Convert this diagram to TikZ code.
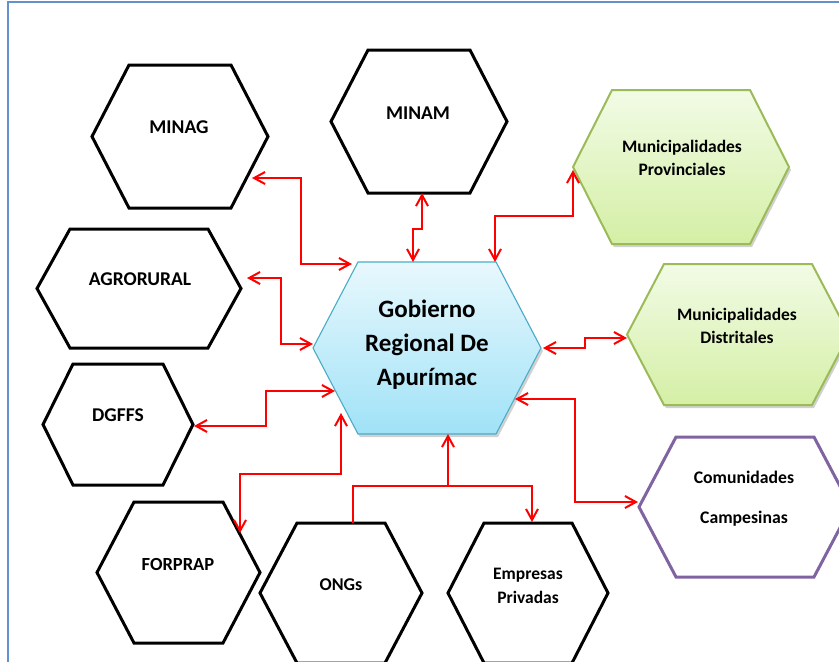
\documentclass[tikz,border=0pt]{standalone}
\usepackage{fontspec}
\setmainfont{Carlito}
\usetikzlibrary{arrows.meta}
\definecolor{framec}{HTML}{6391D0}
\definecolor{cenborder}{HTML}{4BACC6}
\definecolor{centop}{HTML}{E8F8FD}
\definecolor{cenbot}{HTML}{A0E2F7}
\definecolor{grnborder}{HTML}{9BBB59}
\definecolor{grntop}{HTML}{F2FBE6}
\definecolor{grnbot}{HTML}{D4EFA5}
\definecolor{purp}{HTML}{8064A2}
\definecolor{linkred}{HTML}{FF0000}
% hexagon: options, left x, top y, right x, bottom y, inset
\newcommand\hexa[6]{%
  \path[#1] (#2,{(#3+#5)/2}) -- ({#2+#6},#3) -- ({#4-#6},#3) -- (#4,{(#3+#5)/2})
    -- ({#4-#6},#5) -- ({#2+#6},#5) -- cycle;}
\tikzset{
  hexblack/.style={draw=black, line width=3pt, fill=white, line join=miter},
  hexcen/.style={draw=cenborder, line width=1.1pt, top color=centop, bottom color=cenbot},
  hexgrn/.style={draw=grnborder, line width=2pt, top color=grntop, bottom color=grnbot},
  hexpur/.style={draw=purp, line width=3pt, fill=white},
  hexshadow/.style={fill=black, opacity=0.18, xshift=2pt, yshift=-3pt},
  barb/.tip={Straight Barb[length=11pt,width=12pt,line width=2pt]},
  link/.style={draw=linkred, line width=2pt, line join=miter},
  both/.style={link, barb-barb},
  single/.style={link, -barb},
  lbl/.style={font=\bfseries\fontsize{17.5}{23}\selectfont, align=center, inner sep=0pt, text=black},
  caplbl/.style={font=\bfseries\fontsize{19.5}{23}\selectfont, align=center, inner sep=0pt, text=black},
  biglbl/.style={font=\bfseries\fontsize{25}{34}\selectfont, align=center, inner sep=0pt, text=black}
}
\begin{document}
\begin{tikzpicture}[x=1pt,y=-1pt]
\useasboundingbox (0,0) rectangle (839,662);
\clip (0,0) rectangle (839,662);
\fill[white] (0,0) rectangle (839,662);
\draw[framec, line width=2pt] (8,2) rectangle (860,690);

% hexagons
\hexa{hexblack}{92}{65}{268}{208}{37}
\hexa{hexblack}{331}{50}{507}{193}{37}
\hexa{hexblack}{37}{229}{241}{348}{33}
\hexa{hexblack}{43}{364}{193}{485}{30}
\hexa{hexblack}{97}{502}{260}{643}{37}
\hexa{hexblack}{260}{523}{422}{663}{37}
\hexa{hexblack}{448}{523}{608}{663}{36}
\hexa{hexshadow}{313}{262}{541}{434}{45}
\hexa{hexcen}{313}{262}{541}{434}{45}
\hexa{hexshadow}{573}{90}{789}{244}{39}
\hexa{hexgrn}{573}{90}{789}{244}{39}
\hexa{hexshadow}{627}{264}{849}{405}{37}
\hexa{hexgrn}{627}{264}{849}{405}{37}
\hexa{hexpur}{639}{437}{851}{577}{37}

% labels
\node[caplbl] (minag) at (179,127) {MINAG};
\node[caplbl] (minam) at (418,113) {MINAM};
\node[caplbl] (agro) at (140,279) {AGRORURAL};
\node[caplbl] (dgffs) at (118,415) {DGFFS};
\node[lbl, font=\bfseries\fontsize{18.5}{23}\selectfont] (forprap) at (178,564) {FORPRAP};
\node[lbl, font=\bfseries\fontsize{18}{23}\selectfont] (ongs) at (341,585) {ONGs};
\node[lbl, font=\bfseries\fontsize{17.5}{24}\selectfont] (emp) at (528,586) {Empresas\\Privadas};
\node[biglbl] (gob) at (427,345) {Gobierno\\Regional De\\Apurímac};
\node[lbl] (prov) at (682,158) {Municipalidades\\Provinciales};
\node[lbl] (dist) at (737,326) {Municipalidades\\Distritales};
\node[lbl, font=\bfseries\fontsize{17.7}{40}\selectfont] (com) at (744,499) {Comunidades\\Campesinas};

% connector end points
\coordinate (a1) at (252,178); \coordinate (b1) at (352,264);
\coordinate (a2) at (422,193); \coordinate (b2) at (413,262);
\coordinate (a3) at (573,170); \coordinate (b3) at (495,262);
\coordinate (a4) at (627,338); \coordinate (b4) at (543,348);
\coordinate (a5) at (638,502); \coordinate (b5) at (515,399);
\coordinate (o6) at (353,523); \coordinate (e6) at (532,522); \coordinate (c6) at (448,434);
\coordinate (a7) at (240,533); \coordinate (b7) at (341,413);
\coordinate (a8) at (194,426); \coordinate (b8) at (335,391);
\coordinate (a9) at (247,278); \coordinate (b9) at (313,344);

% connectors
\draw[both] (a1) -- ++(49,0) |- (b1);
\draw[both] (a2) -- ++(0,36) -| (b2);
\draw[both] (a3) -- ++(0,46) -| (b3);
\draw[both] (a4) -- ++(-42,0) |- (b4);
\draw[both] (a5) -- ++(-63,0) |- (b5);
\draw[single] (o6) -- ++(0,-37) coordinate (j6) -| (e6);
\draw[single] (c6 |- j6) -- (c6);
\draw[both] (a7) -- ++(0,-59) -| (b7);
\draw[both] (a8) -- ++(72,0) |- (b8);
\draw[both] (a9) -- ++(34,0) |- (b9);
\end{tikzpicture}
\end{document}
